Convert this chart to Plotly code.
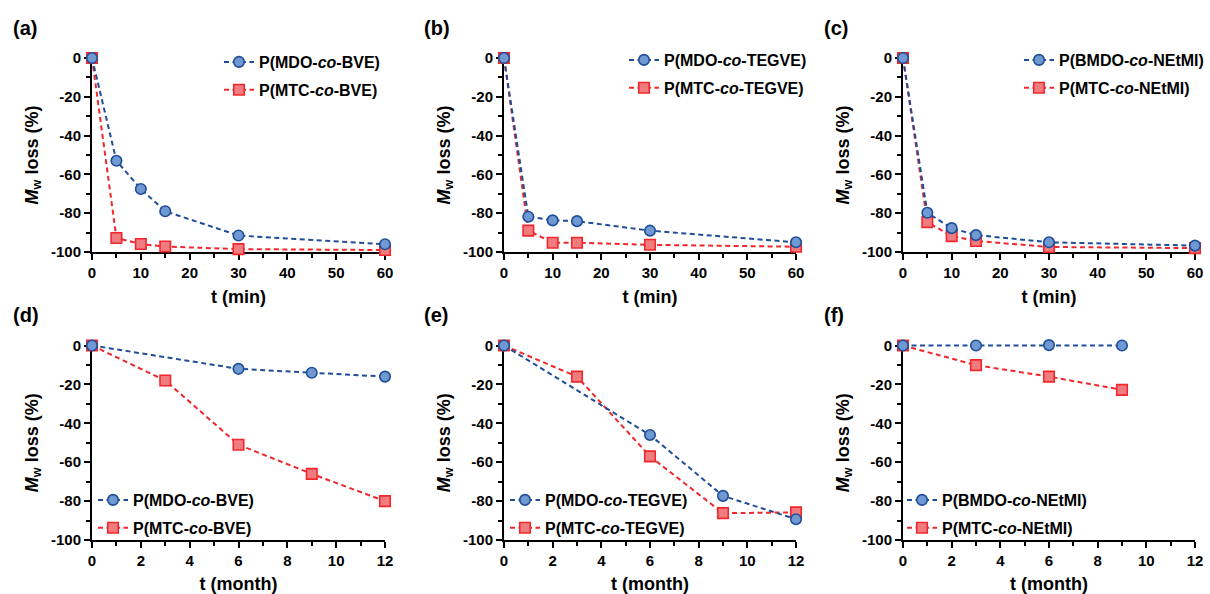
import plotly.graph_objects as go

# ---------------- data ----------------
t_min = [0, 5, 10, 15, 30, 60]
a_mdo = [0, -53, -67.5, -79, -91.5, -96]
a_mtc = [0, -92.8, -95.9, -97.2, -98.5, -99]
b_mdo = [0, -81.8, -83.7, -84.1, -89, -95]
b_mtc = [0, -89, -95.2, -95.2, -96.3, -97.3]
c_bmdo = [0, -79.8, -87.7, -91.3, -95, -96.7]
c_mtc = [0, -84.6, -91.8, -94.3, -97.4, -98]

d_t_mdo = [0, 6, 9, 12]
d_mdo = [0, -12, -14, -16]
d_t_mtc = [0, 3, 6, 9, 12]
d_mtc = [0, -18, -51, -66, -80]

e_t_mdo = [0, 6, 9, 12]
e_mdo = [0, -46, -77.3, -89.3]
e_t_mtc = [0, 3, 6, 9, 12]
e_mtc = [0, -16, -57, -86.2, -85.8]

f_t = [0, 3, 6, 9]
f_bmdo = [0, 0, 0.2, 0]
f_mtc = [0, -10.1, -16, -22.8]

names = {
    "a": ["P(MDO-<i>co</i>-BVE)", "P(MTC-<i>co</i>-BVE)"],
    "b": ["P(MDO-<i>co</i>-TEGVE)", "P(MTC-<i>co</i>-TEGVE)"],
    "c": ["P(BMDO-<i>co</i>-NEtMI)", "P(MTC-<i>co</i>-NEtMI)"],
    "d": ["P(MDO-<i>co</i>-BVE)", "P(MTC-<i>co</i>-BVE)"],
    "e": ["P(MDO-<i>co</i>-TEGVE)", "P(MTC-<i>co</i>-TEGVE)"],
    "f": ["P(BMDO-<i>co</i>-NEtMI)", "P(MTC-<i>co</i>-NEtMI)"],
}
panel_labels = ["(a)", "(b)", "(c)", "(d)", "(e)", "(f)"]
y_ticks = [0, -20, -40, -60, -80, -100]
y_ticktext = ["0", "-20", "-40", "-60", "-80", "-100"]

# ---------------- styling ----------------
W, H = 1210, 594
FONT = "Liberation Sans, Arial, Helvetica, sans-serif"
BLUE_LINE = "#1f4e99"
BLUE_FILL = "#6f99d0"
RED_LINE = "#f0282d"
RED_FILL = "#f07c80"
DASH = "5px,3.5px"
PAD = 10  # px of unclipped room around each panel for the data layer


def px_x(x):
    return x / W


def px_y(y):
    return 1 - y / H


fig = go.Figure()

panels = [
    ("a", t_min, a_mdo, t_min, a_mtc),
    ("b", t_min, b_mdo, t_min, b_mtc),
    ("c", t_min, c_bmdo, t_min, c_mtc),
    ("d", d_t_mdo, d_mdo, d_t_mtc, d_mtc),
    ("e", e_t_mdo, e_mdo, e_t_mtc, e_mtc),
    ("f", f_t, f_bmdo, f_t, f_mtc),
]

# plot-area pixel boxes
x_boxes = [(92, 385), (504, 796), (903, 1195)]
y_boxes = [(58, 252), (345.5, 540)]
legend_pos = [(241, 58), (646, 56), (1041, 56), (115, 496), (527, 496), (924, 496)]
label_pos = [(11, 28), (422, 28), (822, 28), (11, 315), (422, 315), (822, 315)]

for i, (key, tb, yb, tr, yr) in enumerate(panels):
    # fully transparent copy on the framed axes so that they get drawn
    sfx = "" if i == 0 else str(i + 1)
    fig.add_trace(go.Scatter(
        x=tb, y=yb, xaxis="x" + sfx, yaxis="y" + sfx, mode="lines",
        line=dict(width=0, color="rgba(0,0,0,0)"), opacity=0,
        showlegend=False, hoverinfo="skip",
    ))

for i, (key, tb, yb, tr, yr) in enumerate(panels):
    idx = i + 7  # data layer axes
    xa = f"x{idx}"
    ya = f"y{idx}"
    lg = "legend" if i == 0 else f"legend{i + 1}"
    fig.add_trace(go.Scatter(
        x=tr, y=yr, name=names[key][1], xaxis=xa, yaxis=ya, legend=lg,
        legendgroup=f"r{i}", mode="lines+markers", legendrank=2, cliponaxis=False,
        line=dict(color=RED_LINE, width=2, dash=DASH),
        marker=dict(symbol="square", size=10.5, color=RED_FILL,
                    line=dict(color=RED_LINE, width=1.6)),
    ))
    fig.add_trace(go.Scatter(
        x=tb, y=yb, name=names[key][0], xaxis=xa, yaxis=ya, legend=lg,
        legendgroup=f"b{i}", mode="lines+markers", legendrank=1, cliponaxis=False,
        line=dict(color=BLUE_LINE, width=2, dash=DASH),
        marker=dict(symbol="circle", size=10.5, color=BLUE_FILL,
                    line=dict(color=BLUE_LINE, width=1.6)),
    ))

layout = dict(
    width=W, height=H,
    margin=dict(l=0, r=0, t=0, b=0, autoexpand=False),
    paper_bgcolor="white", plot_bgcolor="rgba(0,0,0,0)",
    font=dict(family=FONT, color="black", size=15, weight="bold"),
    showlegend=True,
    annotations=[],
)

for i in range(6):
    idx = i + 1
    col = i % 3
    row = i // 3
    x0, x1 = x_boxes[col]
    y0, y1 = y_boxes[row]
    sfx = "" if idx == 1 else str(idx)
    is_min = row == 0
    xmax = 60 if is_min else 12
    layout["xaxis" + sfx] = dict(
        domain=[px_x(x0), px_x(x1)],
        anchor="y" + sfx,
        range=[0, xmax], autorange=False, automargin=False,
        tickmode="linear", tick0=0, dtick=10 if is_min else 2,
        showgrid=False, zeroline=False,
        showline=True, linecolor="black", linewidth=2,
        ticks="outside", ticklen=6, tickwidth=2, tickcolor="black",
        minor=dict(ticks="outside", ticklen=4, tickwidth=2, tickcolor="black",
                   dtick=5 if is_min else 1, tick0=0, showgrid=False),
        tickfont=dict(family=FONT, size=15, weight="bold", color="black"),
        title=dict(text="t (min)" if is_min else "t (month)", standoff=10,
                   font=dict(family=FONT, size=18, weight="bold", color="black")),
        fixedrange=True,
    )
    layout["yaxis" + sfx] = dict(
        domain=[px_y(y1), px_y(y0)],
        anchor="x" + sfx,
        range=[-100, 0], autorange=False, automargin=False,
        tickmode="array", tickvals=y_ticks, ticktext=y_ticktext,
        showgrid=False, zeroline=False,
        showline=True, linecolor="black", linewidth=2,
        ticks="outside", ticklen=6, tickwidth=2, tickcolor="black",
        minor=dict(ticks="outside", ticklen=4, tickwidth=2, tickcolor="black",
                   tickmode="linear", dtick=10, tick0=0, showgrid=False),
        tickfont=dict(family=FONT, size=15, weight="bold", color="black"),
        title=dict(text="<i>M</i><sub>w</sub> loss (%)", standoff=8,
                   font=dict(family=FONT, size=18, weight="bold", color="black")),
        fixedrange=True,
    )
    # invisible data-layer axes: same scale, slightly larger area so lines on
    # the frame edges are not clipped
    pl = min(PAD, x0)
    pr = min(PAD, W - x1)
    pt = min(PAD, y0)
    pb = min(PAD, H - y1)
    sx = xmax / (x1 - x0)
    sy = 100 / (y1 - y0)
    hid = str(i + 7)
    layout["xaxis" + hid] = dict(
        domain=[px_x(x0 - pl), px_x(x1 + pr)], anchor="y" + hid,
        range=[-pl * sx, xmax + pr * sx], autorange=False, automargin=False,
        visible=False, showgrid=False, zeroline=False, fixedrange=True,
    )
    layout["yaxis" + hid] = dict(
        domain=[px_y(y1 + pb), px_y(y0 - pt)], anchor="x" + hid,
        range=[-100 - pb * sy, pt * sy], autorange=False, automargin=False,
        visible=False, showgrid=False, zeroline=False, fixedrange=True,
    )
    lx, ly = legend_pos[i]
    layout["legend" + sfx] = dict(
        x=px_x(lx - 22), y=px_y(ly - 13), xanchor="left", yanchor="top",
        bgcolor="rgba(0,0,0,0)", borderwidth=0,
        font=dict(family=FONT, size=16, weight="bold", color="black"),
        itemwidth=30, tracegroupgap=4,
    )
    tx, ty = label_pos[i]
    layout["annotations"].append(dict(
        text=panel_labels[i], xref="paper", yref="paper",
        x=px_x(tx), y=px_y(ty), xanchor="left", yanchor="middle",
        showarrow=False,
        font=dict(family=FONT, size=20, weight="bold", color="black"),
    ))

fig.update_layout(**layout)
fig.write_html(
    "out.html",
    config={"displayModeBar": False},
    post_script="document.body.style.margin='0';document.body.style.overflow='hidden';",
)
